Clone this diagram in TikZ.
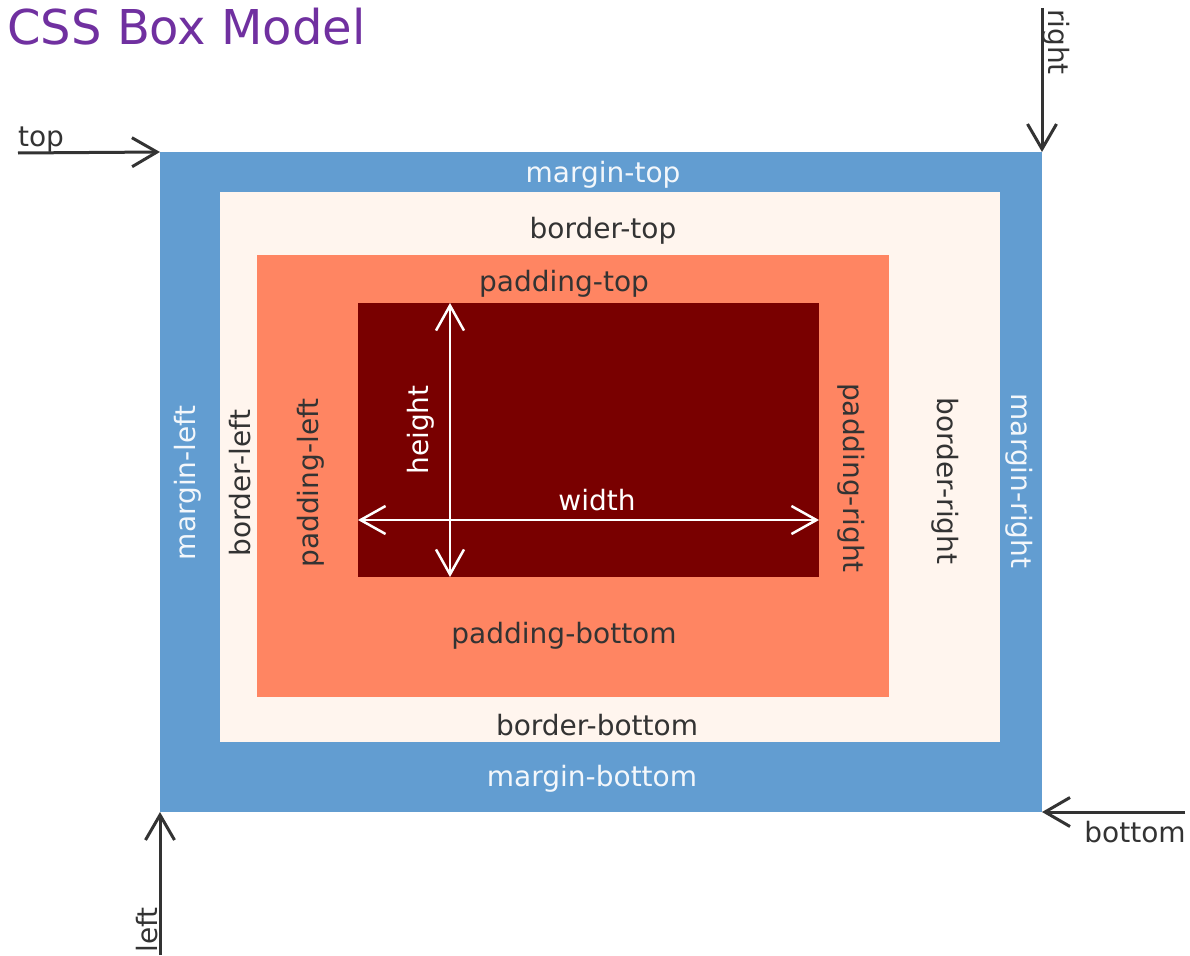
\documentclass[tikz,border=0pt]{standalone}
\usepackage{fontspec}
\setmainfont{DejaVu Sans}
\usetikzlibrary{arrows.meta,positioning}
\definecolor{marginblue}{HTML}{629DD1}
\definecolor{bordershell}{HTML}{FFF5EE}
\definecolor{paddingsalmon}{HTML}{FF8562}
\definecolor{contentred}{HTML}{790000}
\definecolor{titlepurple}{HTML}{7030A0}
\definecolor{inkgray}{HTML}{333333}
\tikzset{every picture/.style={line width=0.75pt}}
\tikzset{
  layer/.style={draw=none, inner sep=0pt, outer sep=0pt, anchor=north west},
  lbl/.style={font=\fontsize{28}{32}\selectfont, text=inkgray, inner sep=0pt},
  lblw/.style={lbl, text=white!92!marginblue},
  pointer/.style={draw=inkgray, line width=3pt, -{Straight Barb[length=25pt,width=29pt,line width=3pt]}},
  measure/.style={draw=white, line width=2.5pt, {Straight Barb[length=25pt,width=28pt,line width=2.5pt]}-{Straight Barb[length=25pt,width=28pt,line width=2.5pt]}}
}

\begin{document}
\begin{tikzpicture}[x=1pt, y=-1pt]
    \useasboundingbox (0,0) rectangle (1190,955);
    \node[anchor=base west, inner sep=0pt, text=titlepurple, font=\fontsize{48}{56}\selectfont] (title) at (7,45) {CSS Box Model};

    \node[layer, fill=marginblue, minimum width=882pt, minimum height=660pt] (margin) at (160,152) {};
    \node[layer, fill=bordershell, minimum width=780pt, minimum height=550pt] (border) at (220,192) {};
    \node[layer, fill=paddingsalmon, minimum width=632pt, minimum height=442pt] (padding) at (257,255) {};
    \node[layer, fill=contentred, minimum width=461pt, minimum height=274pt] (content) at (358,303) {};

    \node[lblw] (mtop) at (603,175) {margin-top};
    \node[lblw] (mbottom) at (592,779) {margin-bottom};
    \node[lblw, rotate=90] (mleft) at (188,483) {margin-left};
    \node[lblw, rotate=-90] (mright) at (1019,481) {margin-right};
    \node[lbl] (btop) at (603,231) {border-top};
    \node[lbl] (bbottom) at (597,725) {border-bottom};
    \node[lbl, rotate=90] (bleft) at (240,483) {border-left};
    \node[lbl, rotate=-90] (bright) at (945,481) {border-right};
    \node[lbl] (ptop) at (564,284) {padding-top};
    \node[lbl] (pbottom) at (564,636) {padding-bottom};
    \node[lbl, rotate=90] (pleft) at (311,483) {padding-left};
    \node[lbl, rotate=-90] (pright) at (851,478) {padding-right};

    \coordinate (hx) at (450,0);
    \coordinate (wy) at (0,520);
    \draw[measure] (content.north -| hx) -- (content.south -| hx);
    \draw[measure] (content.west |- wy) -- (content.east |- wy);
    \node[lblw, text=white] (wlbl) at (597,500) {width};
    \node[lblw, text=white, rotate=90] (hlbl) at (421,430) {height};

    \coordinate (topfrom) at (18,153);
    \coordinate (rightfrom) at (1042,8);
    \coordinate (bottomfrom) at (1185,812);
    \coordinate (leftfrom) at (160,955);
    \draw[pointer] (topfrom) -- (margin.north west);
    \draw[pointer] (rightfrom) -- (margin.north east);
    \draw[pointer] (bottomfrom) -- (margin.south east);
    \draw[pointer] (leftfrom) -- (margin.south west);
    \node[lbl] (toplbl) at (41,140) {top};
    \node[lbl, rotate=-90] (rightlbl) at (1056,42) {right};
    \node[lbl] (bottomlbl) at (1135,832) {bottom};
    \node[lbl, rotate=90] (leftlbl) at (147,930) {left};
\end{tikzpicture}
\end{document}
